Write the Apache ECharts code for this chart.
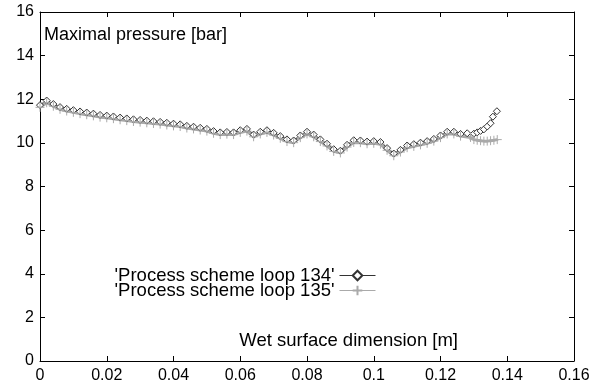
<!DOCTYPE html>
<html><head><meta charset="utf-8">
<script src="https://cdn.jsdelivr.net/npm/echarts@6/dist/echarts.min.js"></script>
<style>html,body{margin:0;padding:0;background:#fff}#c{width:602px;height:388px}</style>
</head><body><div id="c"></div>
<script>
var xMain = [0,0.002,0.004,0.006,0.008,0.010,0.012,0.014,0.016,0.018,0.020,0.022,0.024,0.026,0.028,0.030,0.032,0.034,0.036,0.038,0.040,0.042,0.044,0.046,0.048,0.050,0.052,0.054,0.056,0.058,0.060,0.062,0.064,0.066,0.068,0.070,0.072,0.074,0.076,0.078,0.080,0.082,0.084,0.086,0.088,0.090,0.092,0.094,0.096,0.098,0.100,0.102,0.104,0.106,0.108,0.110,0.112,0.114,0.116,0.118,0.120,0.122,0.124,0.126,0.128];
var yMain = [11.67,11.88,11.72,11.58,11.50,11.44,11.38,11.33,11.28,11.22,11.19,11.15,11.10,11.06,11.02,10.99,10.96,10.93,10.90,10.86,10.82,10.79,10.72,10.68,10.63,10.58,10.48,10.42,10.44,10.42,10.52,10.58,10.32,10.45,10.52,10.40,10.25,10.10,10.05,10.28,10.45,10.32,10.10,9.90,9.65,9.58,9.85,10.06,10.05,10.00,10.02,9.98,9.70,9.45,9.62,9.82,9.88,9.95,10.02,10.12,10.28,10.45,10.45,10.35,10.38];
var x134Tail = [0.130,0.131,0.132,0.133,0.134,0.135,0.1357,0.1369];
var y134Tail = [10.42,10.48,10.55,10.62,10.75,10.90,11.20,11.45];
var x135Tail = [0.129,0.130,0.131,0.132,0.133,0.134,0.135,0.136,0.137];
var y135Tail = [10.25,10.15,10.12,10.10,10.08,10.08,10.10,10.12,10.15];
var xTicks = [0,0.02,0.04,0.06,0.08,0.1,0.12,0.14,0.16];
var yTicks = [0,2,4,6,8,10,12,14,16];
var names = ["'Process scheme loop 134'", "'Process scheme loop 135'"];

var d134 = [], d135 = [];
for (var i = 0; i < xMain.length; i++) {
  d134.push([xMain[i], yMain[i] + 0.06]);
  if (xMain[i] <= 0.126) d135.push([xMain[i], yMain[i] - 0.04]);
}
for (var j = 0; j < x134Tail.length; j++) d134.push([x134Tail[j], y134Tail[j]]);
for (var k = 0; k < x135Tail.length; k++) d135.push([x135Tail[k], y135Tail[k]]);

var font = 'Liberation Sans, Arial, sans-serif';
function fmtX(v){ for (var t=0;t<xTicks.length;t++){ if (Math.abs(v-xTicks[t])<1e-9) return String(xTicks[t]); } return ''; }
var chart = echarts.init(document.getElementById('c'), null, {renderer:'canvas'});
function axLine(){ return {show:true, onZero:false, lineStyle:{color:'#000', width:1}}; }
function axTick(){ return {show:true, inside:true, length:5, lineStyle:{color:'#000', width:1}}; }
var plus = 'path://M0,5L10,5M5,0L5,10';
chart.setOption({
  animation:false,
  backgroundColor:'#fff',
  grid:{left:40, right:28, top:12, bottom:27, containLabel:false},
  legend:{
    orient:'vertical', right:226, top:266, align:'right', padding:0,
    itemWidth:36, itemHeight:12, itemGap:-4,
    lineStyle:{width:1},
    textStyle:{fontFamily:font, fontSize:18.5, color:'#000', lineHeight:16},
    data:names
  },
  xAxis:[
    {type:'value', min:0, max:0.16, interval:0.02, position:'bottom',
     axisLine:axLine(), axisTick:axTick(),
     axisLabel:{fontFamily:font, fontSize:16, color:'#000', margin:7, formatter:fmtX}, splitLine:{show:false}},
    {type:'value', min:0, max:0.16, interval:0.02, position:'top',
     axisLine:axLine(), axisTick:axTick(),
     axisLabel:{show:false}, splitLine:{show:false}}
  ],
  yAxis:[
    {type:'value', min:0, max:16, interval:2, position:'left',
     axisLine:axLine(), axisTick:axTick(),
     axisLabel:{fontFamily:font, fontSize:16, color:'#000', margin:6}, splitLine:{show:false}},
    {type:'value', min:0, max:16, interval:2, position:'right',
     axisLine:axLine(), axisTick:axTick(),
     axisLabel:{show:false}, splitLine:{show:false}}
  ],
  graphic:[
    {type:'text', left:44, top:26, style:{text:'Maximal pressure [bar]', font:'18px '+font, fill:'#000'}},
    {type:'text', right:144, top:331, style:{text:'Wet surface dimension [m]', font:'18.5px '+font, fill:'#000'}}
  ],
  series:[
    {name:names[0], type:'line', data:d134, xAxisIndex:0, yAxisIndex:0,
     symbol:'diamond', symbolSize:7, showAllSymbol:true,
     lineStyle:{color:'#333', width:1.2},
     itemStyle:{color:'#fff', borderColor:'#333', borderWidth:1}},
    {name:names[1], type:'line', data:d135, xAxisIndex:0, yAxisIndex:0,
     symbol:plus, symbolSize:9, showAllSymbol:true,
     lineStyle:{color:'#aaa', width:3},
     itemStyle:{color:'none', borderColor:'#aaa', borderWidth:1}}
  ]
});
</script></body></html>
